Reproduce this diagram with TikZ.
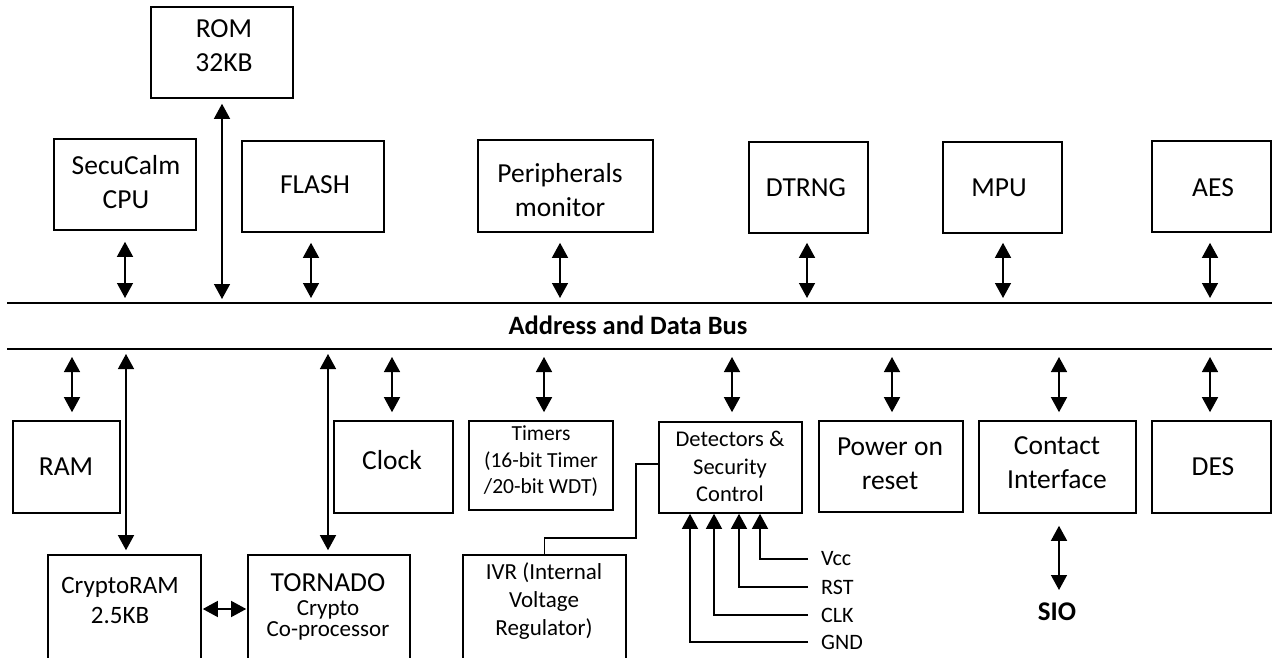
\documentclass[tikz,border=0pt]{standalone}
\usepackage{fontspec}
\setmainfont{Carlito}
\usetikzlibrary{arrows.meta}
\begin{document}
\begin{tikzpicture}[x=1pt,y=-1pt,
  >={Triangle[length=15pt,width=16pt]},
  box/.style={draw, line width=1.6pt, inner sep=0pt},
  txt/.style={align=center, inner sep=0pt},
  big/.style={font=\fontsize{27.5}{34}\selectfont},
  mid/.style={font=\fontsize{22.5}{27.5}\selectfont},
  small/.style={font=\fontsize{21.5}{26.5}\selectfont},
  lbl/.style={inner sep=0pt, anchor=west, font=\fontsize{22}{26}\selectfont},
  dar/.style={<->, line width=1.4pt},
  sig/.style={->, line width=1.4pt},
  wire/.style={line width=1.4pt},
  bus/.style={line width=1.7pt}]
\useasboundingbox (0,0) rectangle (1277,658);
\clip (0,0) rectangle (1277,658);

% bus
\coordinate (btl) at (7,303);
\coordinate (btr) at (1272,303);
\coordinate (bbl) at (7,349);
\coordinate (bbr) at (1272,349);
\coordinate (bt) at (0,303);
\coordinate (bb) at (0,349);
\draw[bus] (btl) -- (btr);
\draw[bus] (bbl) -- (bbr);
\node[inner sep=0pt, font=\fontsize{26.5}{30}\selectfont\bfseries] (buslabel) at (628,325) {Address and Data Bus};

% top row
\node[box,minimum width=142pt,minimum height=91pt] (rom) at (222,52.5) {};
\node[txt,big] (romt) at (224,46) {ROM\\32KB};
\node[box,minimum width=142pt,minimum height=91pt] (cpu) at (125,184.5) {};
\node[txt,big] (cput) at (126,182.5) {SecuCalm\\CPU};
\node[box,minimum width=142pt,minimum height=91pt] (flash) at (313,186.5) {};
\node[txt,big] (flasht) at (315,185) {FLASH};
\node[box,minimum width=175pt,minimum height=92pt] (peri) at (565.5,186) {};
\node[txt,big] (perit) at (560,190.5) {Peripherals\\monitor};
\node[box,minimum width=119pt,minimum height=91pt] (dtrng) at (808.5,187.5) {};
\node[txt,big] (dtrngt) at (806,188) {DTRNG};
\node[box,minimum width=119pt,minimum height=91pt] (mpu) at (1002.5,187.5) {};
\node[txt,big] (mput) at (999,188) {MPU};
\node[box,minimum width=119pt,minimum height=91pt] (aes) at (1211.5,186.5) {};
\node[txt,big] (aest) at (1213,188) {AES};

% bottom row
\node[box,minimum width=107pt,minimum height=92pt] (ram) at (66.5,467) {};
\node[txt,big] (ramt) at (66,467) {RAM};
\node[box,minimum width=119pt,minimum height=92pt] (clock) at (393.5,467) {};
\node[txt,big] (clockt) at (392,460) {Clock};
\node[box,minimum width=144pt,minimum height=89pt] (timers) at (541,465.5) {};
\node[txt,small] (timerst) at (541,461.5) {Timers\\(16-bit Timer\\/20-bit WDT)};
\node[box,minimum width=143pt,minimum height=91pt] (det) at (730.5,467.5) {};
\node[txt,mid] (dett) at (730,466.5) {Detectors \&\\Security\\Control};
\node[box,minimum width=144pt,minimum height=91pt] (power) at (891,466.5) {};
\node[txt,big] (powert) at (890,463.5) {Power on\\reset};
\node[box,minimum width=157pt,minimum height=92pt] (contact) at (1057.5,467) {};
\node[txt,big] (contactt) at (1057,463) {Contact\\Interface};
\node[box,minimum width=119pt,minimum height=92pt] (des) at (1211.5,467) {};
\node[txt,big] (dest) at (1213,467) {DES};

% lowest row (cut by the page edge)
\node[box,minimum width=153pt,minimum height=120pt] (cram) at (124.5,615) {};
\node[txt,font=\fontsize{25}{30}\selectfont] (cramt) at (120,600) {CryptoRAM\\2.5KB};
\node[box,minimum width=162pt,minimum height=120pt] (tornado) at (329,615) {};
\node[txt,big] (tornadot) at (328,583) {TORNADO};
\node[txt,font=\fontsize{23}{21}\selectfont] (tornados) at (328,620) {Crypto\\Co-processor};
\node[box,minimum width=163pt,minimum height=120pt] (ivr) at (544.5,615) {};
\node[txt,font=\fontsize{23}{28}\selectfont] (ivrt) at (544,601) {IVR (Internal\\Voltage\\Regulator)};

% SIO and signal labels
\node[inner sep=0pt, font=\fontsize{27}{30}\selectfont\bfseries] (sio) at (1057,612) {SIO};
\node[lbl] (vcc) at (821,559) {Vcc};
\node[lbl] (rst) at (821,587) {RST};
\node[lbl] (clk) at (821,615) {CLK};
\node[lbl] (gnd) at (821,642) {GND};

% top arrows
\draw[dar, shorten <=11pt, shorten >=5pt] (cpu.south) -- (cpu.south |- bt);
\draw[dar, shorten <=5pt, shorten >=4pt] (rom.south) -- (rom.south |- bt);
\draw[dar, shorten <=10pt, shorten >=5pt] ([xshift=-2pt]flash.south) -- ([xshift=-2pt]flash.south |- bt);
\draw[dar, shorten <=10pt, shorten >=5pt] ([xshift=-5.5pt]peri.south) -- ([xshift=-5.5pt]peri.south |- bt);
\draw[dar, shorten <=9pt, shorten >=5pt] ([xshift=-1.5pt]dtrng.south) -- ([xshift=-1.5pt]dtrng.south |- bt);
\draw[dar, shorten <=9pt, shorten >=5pt] ([xshift=0.5pt]mpu.south) -- ([xshift=0.5pt]mpu.south |- bt);
\draw[dar, shorten <=10pt, shorten >=5pt] ([xshift=-1.5pt]aes.south) -- ([xshift=-1.5pt]aes.south |- bt);

% bottom arrows
\draw[dar, shorten <=8pt, shorten >=8pt] ([xshift=5.5pt]ram.north |- bb) -- ([xshift=5.5pt]ram.north);
\draw[dar, shorten <=5pt, shorten >=4pt] ([xshift=1.5pt]cram.north |- bb) -- ([xshift=1.5pt]cram.north);
\draw[dar, shorten <=5pt, shorten >=4pt] ([xshift=-1pt]tornado.north |- bb) -- ([xshift=-1pt]tornado.north);
\draw[dar, shorten <=8pt, shorten >=8pt] ([xshift=-1.5pt]clock.north |- bb) -- ([xshift=-1.5pt]clock.north);
\draw[dar, shorten <=8pt, shorten >=8pt] ([xshift=3pt]timers.north |- bb) -- ([xshift=3pt]timers.north);
\draw[dar, shorten <=8pt, shorten >=9pt] ([xshift=1.5pt]det.north |- bb) -- ([xshift=1.5pt]det.north);
\draw[dar, shorten <=8pt, shorten >=8pt] ([xshift=1pt]power.north |- bb) -- ([xshift=1pt]power.north);
\draw[dar, shorten <=8pt, shorten >=8pt] ([xshift=1.5pt]contact.north |- bb) -- ([xshift=1.5pt]contact.north);
\draw[dar, shorten <=8pt, shorten >=8pt] ([xshift=-1.5pt]des.north |- bb) -- ([xshift=-1.5pt]des.north);

% CryptoRAM <-> TORNADO
\coordinate (hy) at (0,609);
\draw[dar, shorten <=1pt, shorten >=1pt] (cram.east |- hy) -- (tornado.west |- hy);

% Contact interface <-> SIO
\draw[dar, shorten <=12pt, shorten >=22pt] ([xshift=1.5pt]contact.south) -- ([xshift=1.5pt]contact.south |- sio.center);

% Detectors -- IVR
\draw[wire] ([yshift=3.5pt]det.west) -| (636,538) -| (ivr.north);

% signals into Detectors
\draw[sig] ([xshift=-13pt]vcc.west) -| ([xshift=29.5pt]det.south);
\draw[sig] ([xshift=-13pt]rst.west) -| ([xshift=8.5pt]det.south);
\draw[sig] ([xshift=-13pt]clk.west) -| ([xshift=-16.5pt]det.south);
\draw[sig] ([xshift=-13pt]gnd.west) -| ([xshift=-40.5pt]det.south);
\end{tikzpicture}
\end{document}
